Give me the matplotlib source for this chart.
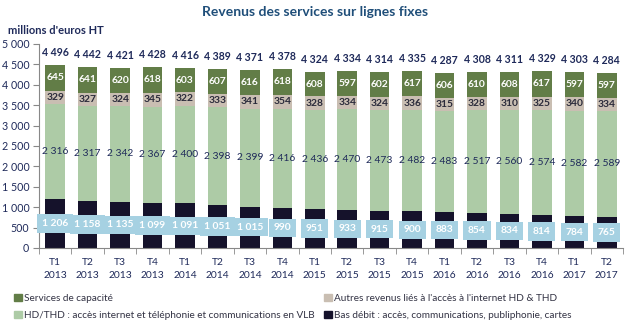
import numpy as np
import matplotlib
matplotlib.use("Agg")
import matplotlib.pyplot as plt
from matplotlib.patches import Patch

plt.rcParams['font.family'] = ['Lato', 'DejaVu Sans']

# Data (millions d'euros HT)
quarters = ["T1\n2013", "T2\n2013", "T3\n2013", "T4\n2013",
            "T1\n2014", "T2\n2014", "T3\n2014", "T4\n2014",
            "T1\n2015", "T2\n2015", "T3\n2015", "T4\n2015",
            "T1\n2016", "T2\n2016", "T3\n2016", "T4\n2016",
            "T1\n2017", "T2\n2017"]
bas_debit = [1206, 1158, 1135, 1099, 1091, 1051, 1015, 990, 951,
             933, 915, 900, 883, 854, 834, 814, 784, 765]
hd_thd = [2316, 2317, 2342, 2367, 2400, 2398, 2399, 2416, 2436,
          2470, 2473, 2482, 2483, 2517, 2560, 2574, 2582, 2589]
autres = [329, 327, 324, 345, 322, 333, 341, 354, 328,
          334, 324, 336, 315, 328, 310, 325, 340, 334]
capacite = [645, 641, 620, 618, 603, 607, 616, 618, 608,
            597, 602, 617, 606, 610, 608, 617, 597, 597]
totals = [4496, 4442, 4421, 4428, 4416, 4389, 4371, 4378, 4324,
          4334, 4314, 4335, 4287, 4308, 4311, 4329, 4303, 4284]

C_BAS = '#15122b'
C_HD = '#adcba6'
C_AUT = '#c9beb2'
C_CAP = '#627d47'
C_BOX = '#a6d1e2'
NAVY = '#1f2a5a'
FS = 7.4


def fmt(v):
    return f"{v:,}".replace(",", " ")


fig = plt.figure(figsize=(6.31, 3.28), dpi=100)
ax = fig.add_axes([39 / 631, 1 - 248 / 328, 584 / 631, 204 / 328])

x = np.arange(len(quarters))
w = 0.6
b1 = np.array(bas_debit)
b2 = b1 + np.array(hd_thd)
b3 = b2 + np.array(autres)

ax.bar(x, bas_debit, w, color=C_BAS)
ax.bar(x, hd_thd, w, bottom=b1, color=C_HD)
ax.bar(x, autres, w, bottom=b2, color=C_AUT)
ax.bar(x, capacite, w, bottom=b3, color=C_CAP)

for i in x:
    ax.text(i, bas_debit[i] / 2, fmt(bas_debit[i]), ha='center', va='center',
            color='white', fontsize=FS, fontweight='bold',
            bbox=dict(boxstyle='square,pad=0.45', fc=C_BOX, ec='none'))
    ax.text(i, b1[i] + hd_thd[i] / 2, fmt(hd_thd[i]), ha='center', va='center',
            color=NAVY, fontsize=FS)
    ax.text(i, b2[i] + autres[i] / 2, fmt(autres[i]), ha='center', va='center',
            color='#2a2a3a', fontsize=FS, fontweight='bold')
    ax.text(i, b3[i] + capacite[i] / 2, fmt(capacite[i]), ha='center', va='center',
            color='white', fontsize=FS, fontweight='bold')
    ax.annotate(fmt(totals[i]), (i, totals[i]), xytext=(0, 5),
                textcoords='offset points', ha='center', va='bottom',
                color=NAVY, fontsize=FS + 0.2, fontweight='bold', annotation_clip=False)

ax.set_xlim(-0.5, len(quarters) - 0.5)
ax.set_ylim(0, 5000)
ax.set_yticks(range(0, 5001, 500))
ax.set_yticklabels([fmt(v) for v in range(0, 5001, 500)])
ax.set_xticks(x)
ax.set_xticklabels(quarters, linespacing=1.6)
ax.set_xticks(np.arange(-0.5, len(quarters), 1), minor=True)
ax.tick_params(axis='x', which='major', length=0, pad=7, labelsize=FS, labelcolor=NAVY)
ax.tick_params(axis='x', which='minor', length=4, color='#888888')
ax.tick_params(axis='y', length=4, color='#888888', labelsize=FS + 0.3, labelcolor=NAVY, pad=3)
for s in ['top', 'right']:
    ax.spines[s].set_visible(False)
for s in ['left', 'bottom']:
    ax.spines[s].set_color('#888888')

fig.text(0.5, 1 - 12 / 328, "Revenus des services sur lignes fixes", ha='center', va='center',
         fontsize=10, fontweight='bold', color='#1f4e79')
fig.text(8 / 631, 1 - 30 / 328, "millions d'euros HT", ha='left', va='center',
         fontsize=8, fontweight='bold', color=NAVY)

handles = [Patch(color=C_CAP), Patch(color=C_HD), Patch(color=C_AUT), Patch(color=C_BAS)]
labels = ["Services de capacité",
          "HD/THD : accès internet et téléphonie et communications en VLB",
          "Autres revenus liés à l'accès à l'internet HD & THD",
          "Bas débit : accès, communications, publiphonie, cartes"]
fig.legend(handles, labels, ncol=2, loc='upper left', bbox_to_anchor=(7 / 631, 1 - 287 / 328),
           frameon=False, fontsize=7.2, handlelength=0.75, handleheight=0.75, handletextpad=0.2,
           columnspacing=1.0, labelspacing=0.75, labelcolor='#333344', borderpad=0.2)

fig.savefig("out.png", dpi=100)
